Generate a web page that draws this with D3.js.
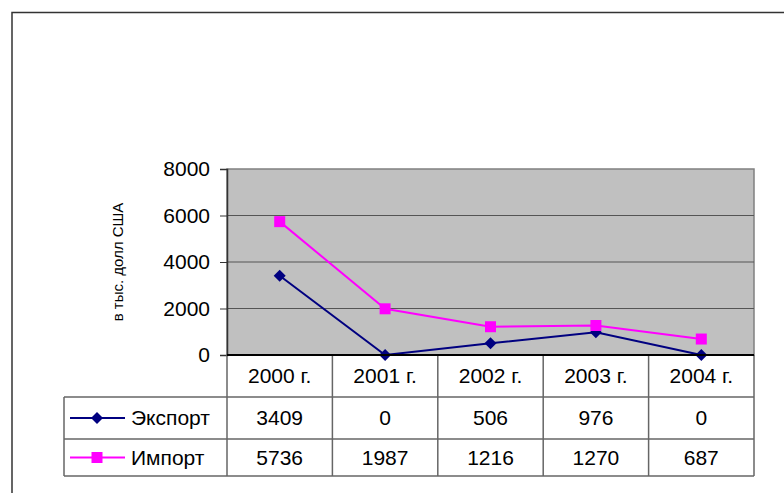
<!DOCTYPE html>
<html>
<head>
<meta charset="utf-8">
<script src="https://cdn.jsdelivr.net/npm/d3@7"></script>
<style>
  body { margin: 0; background: #fff; }
  svg { display: block; font-family: "Liberation Sans", Arial, sans-serif; }
</style>
</head>
<body>
<svg id="chart" width="784" height="493"></svg>
<script>
var years = ["2000 г.", "2001 г.", "2002 г.", "2003 г.", "2004 г."]
var exportVals = [3409, 0, 506, 976, 0]
var importVals = [5736, 1987, 1216, 1270, 687]
var yTicks = [0, 2000, 4000, 6000, 8000]
var seriesNames = ["Экспорт", "Импорт"]

var svg = d3.select("#chart"),
	plotL = 227, plotR = 754, plotT = 169, plotB = 355,
	tableLeft = 64, rowH = [42, 42, 37]

var x = d3.scaleBand().domain(years).range([plotL, plotR])
var y = d3.scaleLinear().domain([0, 8000]).range([plotB, plotT])

var series = [
	{ name: seriesNames[0], values: exportVals, color: "#000080", size: 72, rot: 45 },
	{ name: seriesNames[1], values: importVals, color: "#ff00ff", size: 121, rot: 0 }
]

var marker = (s) => d3.symbol().type(d3.symbolSquare).size(s.size)

// outer frame, runs off the picture to the right and bottom
svg.append("rect")
	.attr("x", 12).attr("y", 12.5)
	.attr("width", 800).attr("height", 500)
	.attr("fill", "none").attr("stroke", "#333").attr("stroke-width", 1.5)

// plot area
svg.append("rect")
	.attr("x", plotL).attr("y", plotT)
	.attr("width", plotR - plotL).attr("height", plotB - plotT)
	.attr("fill", "#c0c0c0").attr("stroke", "#808080").attr("stroke-width", 1.5)

svg.append("g").selectAll("line")
	.data(yTicks.filter(d => d > 0 && d < 8000))
	.join("line")
	.attr("x1", plotL).attr("x2", plotR)
	.attr("y1", d => y(d)).attr("y2", d => y(d))
	.attr("stroke", "#555").attr("stroke-width", 1.2)

// y axis
var yAxis = svg.append("g")
	.attr("transform", "translate(" + plotL + ",0)")
	.call(d3.axisLeft(y).tickValues(yTicks).tickSize(7).tickPadding(10).tickFormat(d3.format("d")))
yAxis.select(".domain").attr("stroke", "#333").attr("stroke-width", 1.5)
yAxis.selectAll(".tick line").attr("stroke", "#333")
yAxis.selectAll(".tick text")
	.style("font-size", "21px").attr("fill", "#000")

svg.append("text")
	.attr("transform", "translate(123," + ((plotT + plotB) / 2) + ") rotate(-90)")
	.attr("text-anchor", "middle")
	.style("font-size", "15px")
	.text("в тыс. долл США")

// data table
var rowY = [plotB, plotB + rowH[0], plotB + rowH[0] + rowH[1], plotB + rowH[0] + rowH[1] + rowH[2]]
var table = svg.append("g").attr("stroke", "#666").attr("stroke-width", 1.5)

table.selectAll(".hline")
	.data(rowY.slice(1))
	.join("line")
	.attr("x1", tableLeft).attr("x2", plotR)
	.attr("y1", d => d).attr("y2", d => d)

table.selectAll(".vline")
	.data(years.map(d => x(d)).concat([plotR]))
	.join("line")
	.attr("x1", d => d).attr("x2", d => d)
	.attr("y1", rowY[0]).attr("y2", rowY[3])

table.append("line")
	.attr("x1", tableLeft).attr("x2", tableLeft)
	.attr("y1", rowY[1]).attr("y2", rowY[3])

svg.append("g").selectAll("text")
	.data(years)
	.join("text")
	.attr("x", d => x(d) + x.bandwidth() / 2)
	.attr("y", (rowY[0] + rowY[1]) / 2)
	.attr("dy", "0.35em")
	.attr("text-anchor", "middle")
	.style("font-size", "21px")
	.text(d => d)

series.forEach((s, i) => {
	var cy = (rowY[i + 1] + rowY[i + 2]) / 2
	var g = svg.append("g")
	g.selectAll("text")
		.data(s.values)
		.join("text")
		.attr("x", (d, j) => x(years[j]) + x.bandwidth() / 2)
		.attr("y", cy)
		.attr("dy", "0.35em")
		.attr("text-anchor", "middle")
		.style("font-size", "21px")
		.text(d => d)

	// legend key
	g.append("line")
		.attr("x1", 70).attr("x2", 125)
		.attr("y1", cy).attr("y2", cy)
		.attr("stroke", s.color).attr("stroke-width", 2)
	g.append("path")
		.attr("d", marker(s))
		.attr("transform", "translate(97," + cy + ") rotate(" + s.rot + ")")
		.attr("fill", s.color)
	g.append("text")
		.attr("x", 131).attr("y", cy)
		.attr("dy", "0.35em")
		.style("font-size", "21px")
		.text(s.name)
})

// lines and markers
var line = d3.line()
	.x((d, j) => x(years[j]) + x.bandwidth() / 2)
	.y(d => y(d))

series.forEach((s) => {
	svg.append("path")
		.datum(s.values)
		.attr("d", line)
		.attr("fill", "none")
		.attr("stroke", s.color).attr("stroke-width", 2)
	svg.append("g").selectAll("path")
		.data(s.values)
		.join("path")
		.attr("d", marker(s))
		.attr("transform", (d, j) => "translate(" + (x(years[j]) + x.bandwidth() / 2) + "," + y(d) + ") rotate(" + s.rot + ")")
		.attr("fill", s.color)
})

// category axis line drawn last so it sits over the plot border
svg.append("line")
	.attr("x1", plotL).attr("x2", plotR)
	.attr("y1", plotB).attr("y2", plotB)
	.attr("stroke", "#000").attr("stroke-width", 2)
</script>
</body>
</html>
